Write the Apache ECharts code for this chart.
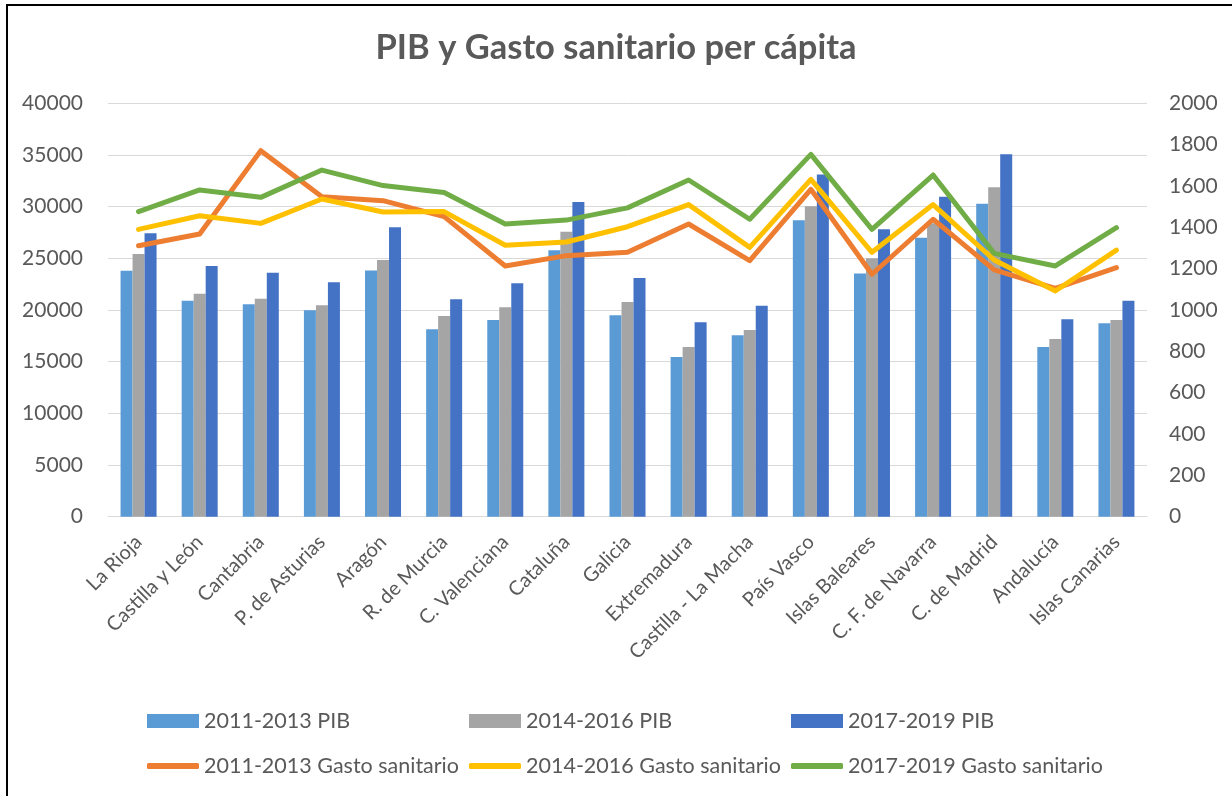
<!DOCTYPE html>
<html>
<head>
<meta charset="utf-8">
<script src="https://cdn.jsdelivr.net/npm/echarts@6/dist/echarts.min.js"></script>
<style>
  html, body { margin: 0; padding: 0; background: #fff; }
  #chart { width: 1232px; height: 796px; }
  #frame { position: absolute; left: 6px; top: 4px; width: 1300px; height: 900px;
           border-left: 2px solid #000; border-top: 2px solid #000; pointer-events: none; }
</style>
</head>
<body>
<div id="chart"></div>
<div id="frame"></div>
<script>
const categories = ["La Rioja", "Castilla y León", "Cantabria", "P. de Asturias", "Aragón",
  "R. de Murcia", "C. Valenciana", "Cataluña", "Galicia", "Extremadura", "Castilla - La Macha",
  "País Vasco", "Islas Baleares", "C. F. de Navarra", "C. de Madrid", "Andalucía", "Islas Canarias"];

const pib2011 = [23800, 20900, 20550, 19970, 23810, 18130, 19030, 25780, 19480, 15450, 17550, 28680, 23520, 27000, 30290, 16420, 18710];
const pib2014 = [25420, 21580, 21100, 20450, 24840, 19420, 20260, 27580, 20770, 16420, 18060, 30030, 25000, 28390, 31870, 17190, 19030];
const pib2017 = [27420, 24260, 23610, 22680, 28000, 21030, 22580, 30450, 23100, 18810, 20420, 33100, 27810, 30970, 35070, 19100, 20900];

const gasto2011 = [1311, 1368, 1771, 1548, 1529, 1452, 1213, 1263, 1279, 1416, 1239, 1584, 1173, 1439, 1194, 1105, 1205];
const gasto2014 = [1390, 1456, 1419, 1537, 1474, 1476, 1313, 1329, 1403, 1510, 1303, 1632, 1279, 1510, 1242, 1092, 1290];
const gasto2017 = [1476, 1581, 1545, 1677, 1602, 1568, 1416, 1435, 1494, 1629, 1439, 1753, 1390, 1653, 1274, 1213, 1398];

const seriesNames = ["2011-2013 PIB", "2014-2016 PIB", "2017-2019 PIB",
  "2011-2013 Gasto sanitario", "2014-2016 Gasto sanitario", "2017-2019 Gasto sanitario"];
const colors = ["#5B9BD5", "#A5A5A5", "#4472C4", "#ED7D31", "#FFC000", "#70AD47"];

const FONT = "Lato";
const TXT = "#595959";

const chart = echarts.init(document.getElementById('chart'));

const legendPos = [[147, 710], [469, 710], [791, 710], [147, 755], [469, 755], [791, 755]];
const legends = seriesNames.map((n, i) => ({
  data: [n],
  left: legendPos[i][0],
  top: legendPos[i][1],
  padding: 0,
  itemWidth: 52,
  itemHeight: i < 3 ? 14 : 6,
  itemGap: 6,
  icon: i < 3 ? 'rect' : 'roundRect',
  selectedMode: false,
  textStyle: { fontFamily: FONT, fontSize: 21.5, color: TXT }
}));

const barData = [pib2011, pib2014, pib2017];
const lineData = [gasto2011, gasto2014, gasto2017];

const series = [];
barData.forEach((d, i) => series.push({
  name: seriesNames[i], type: 'bar', data: d, yAxisIndex: 0,
  barWidth: 12, barGap: '0%', itemStyle: { color: colors[i] }
}));
lineData.forEach((d, i) => series.push({
  name: seriesNames[i + 3], type: 'line', data: d, yAxisIndex: 1,
  symbol: 'none', smooth: false,
  lineStyle: { color: colors[i + 3], width: 5, cap: 'round', join: 'round' },
  itemStyle: { color: colors[i + 3] }
}));

const plain = v => String(v);

chart.setOption({
  animation: false,
  backgroundColor: '#fff',
  title: {
    text: 'PIB y Gasto sanitario per cápita',
    left: 'center', top: 25,
    textStyle: { fontFamily: FONT, fontWeight: 'bold', fontSize: 34.5, color: TXT }
  },
  legend: legends,
  grid: { left: 108, right: 85, top: 103.3, bottom: 279.3, containLabel: false },
  xAxis: {
    type: 'category', data: categories,
    axisLine: { lineStyle: { color: '#D9D9D9', width: 1 } },
    axisTick: { show: false },
    axisLabel: { interval: 0, rotate: 45, margin: 22, fontFamily: FONT, fontSize: 20, color: TXT }
  },
  yAxis: [
    { type: 'value', min: 0, max: 40000, interval: 5000,
      axisLine: { show: false }, axisTick: { show: false },
      splitLine: { lineStyle: { color: '#D9D9D9', width: 1 } },
      axisLabel: { margin: 25, formatter: plain, fontFamily: FONT, fontSize: 21, color: TXT } },
    { type: 'value', min: 0, max: 2000, interval: 200, position: 'right',
      axisLine: { show: false }, axisTick: { show: false },
      splitLine: { show: false },
      axisLabel: { margin: 22, formatter: plain, fontFamily: FONT, fontSize: 21, color: TXT } }
  ],
  series: series
});
</script>
</body>
</html>
